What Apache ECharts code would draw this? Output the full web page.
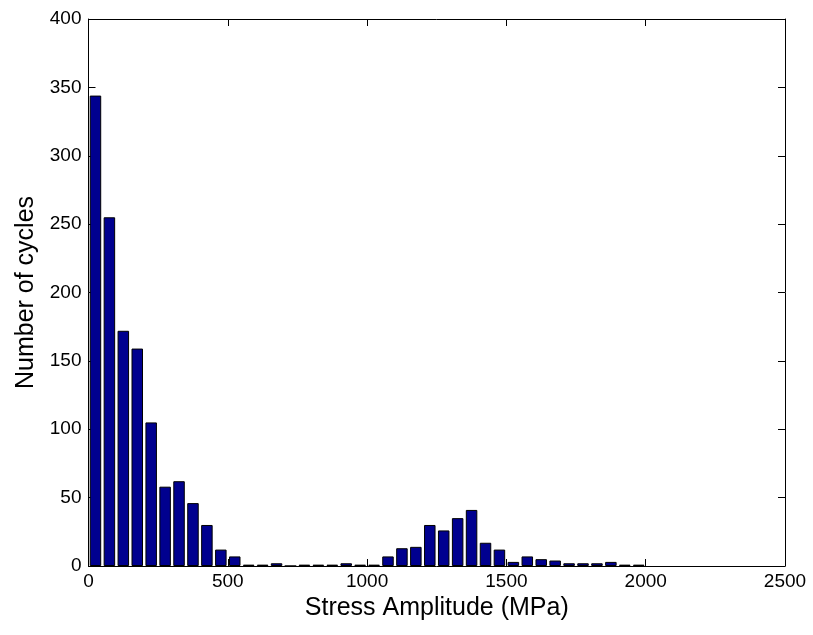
<!DOCTYPE html>
<html>
<head>
<meta charset="utf-8">
<script src="https://cdn.jsdelivr.net/npm/echarts@6/dist/echarts.min.js"></script>
<style>
html,body{margin:0;padding:0;background:#fff;}
#chart{width:813px;height:635px;}
</style>
</head>
<body>
<div id="chart"></div>
<script>
// Histogram bin centres (MPa) and counts
var binCenters = [25,75,125,175,225,275,325,375,425,475,525,575,625,675,725,775,825,875,925,975,1025,1075,1125,1175,1225,1275,1325,1375,1425,1475,1525,1575,1625,1675,1725,1775,1825,1875,1925,1975];
var counts = [344,255,172,159,105,58,62,46,30,12,7,1,1,2,0,1,1,1,2,1,1,7,13,14,30,26,35,41,17,12,3,7,5,4,2,2,2,3,1,1];
var xLabel = 'Stress Amplitude (MPa)';
var yLabel = 'Number of cycles';

var data = binCenters.map(function(c,i){return [c, counts[i]];});
var fontFam = '"Liberation Sans", Arial, Helvetica, sans-serif';
var chart = echarts.init(document.getElementById('chart'), null, {renderer:'canvas'});
var tickStyle = {show:true, inside:true, length:7, lineStyle:{color:'#000', width:1}};
var lineStyle = {show:true, onZero:false, lineStyle:{color:'#000', width:1}};
var plain = function(v){return String(v);};
chart.setOption({
  animation:false,
  backgroundColor:'#fff',
  grid:{left:88.5, right:28, top:19, bottom:69, containLabel:false},
  xAxis:[{
    type:'value', min:0, max:2500, interval:500, position:'bottom',
    axisLine:lineStyle, axisTick:tickStyle, splitLine:{show:false},
    axisLabel:{color:'#000', fontSize:19, fontFamily:fontFam, margin:6, formatter:plain},
    name:xLabel, nameLocation:'middle', nameGap:30,
    nameTextStyle:{color:'#000', fontSize:25, fontFamily:fontFam}
  },{
    type:'value', min:0, max:2500, interval:500, position:'top',
    axisLine:lineStyle, axisTick:tickStyle, splitLine:{show:false},
    axisLabel:{show:false}
  }],
  yAxis:[{
    type:'value', min:0, max:400, interval:50, position:'left',
    axisLine:lineStyle, axisTick:tickStyle, splitLine:{show:false},
    axisLabel:{color:'#000', fontSize:19, fontFamily:fontFam, margin:7, formatter:plain},
    name:yLabel, nameLocation:'middle', nameGap:50,
    nameTextStyle:{color:'#000', fontSize:25, fontFamily:fontFam}
  },{
    type:'value', min:0, max:400, interval:50, position:'right',
    axisLine:lineStyle, axisTick:tickStyle, splitLine:{show:false},
    axisLabel:{show:false}
  }],
  series:[{
    type:'bar', xAxisIndex:0, yAxisIndex:0,
    data:data, barWidth:11.5,
    itemStyle:{color:'#00008F', borderColor:'#000', borderWidth:1},
    silent:true
  }]
});
</script>
</body>
</html>
